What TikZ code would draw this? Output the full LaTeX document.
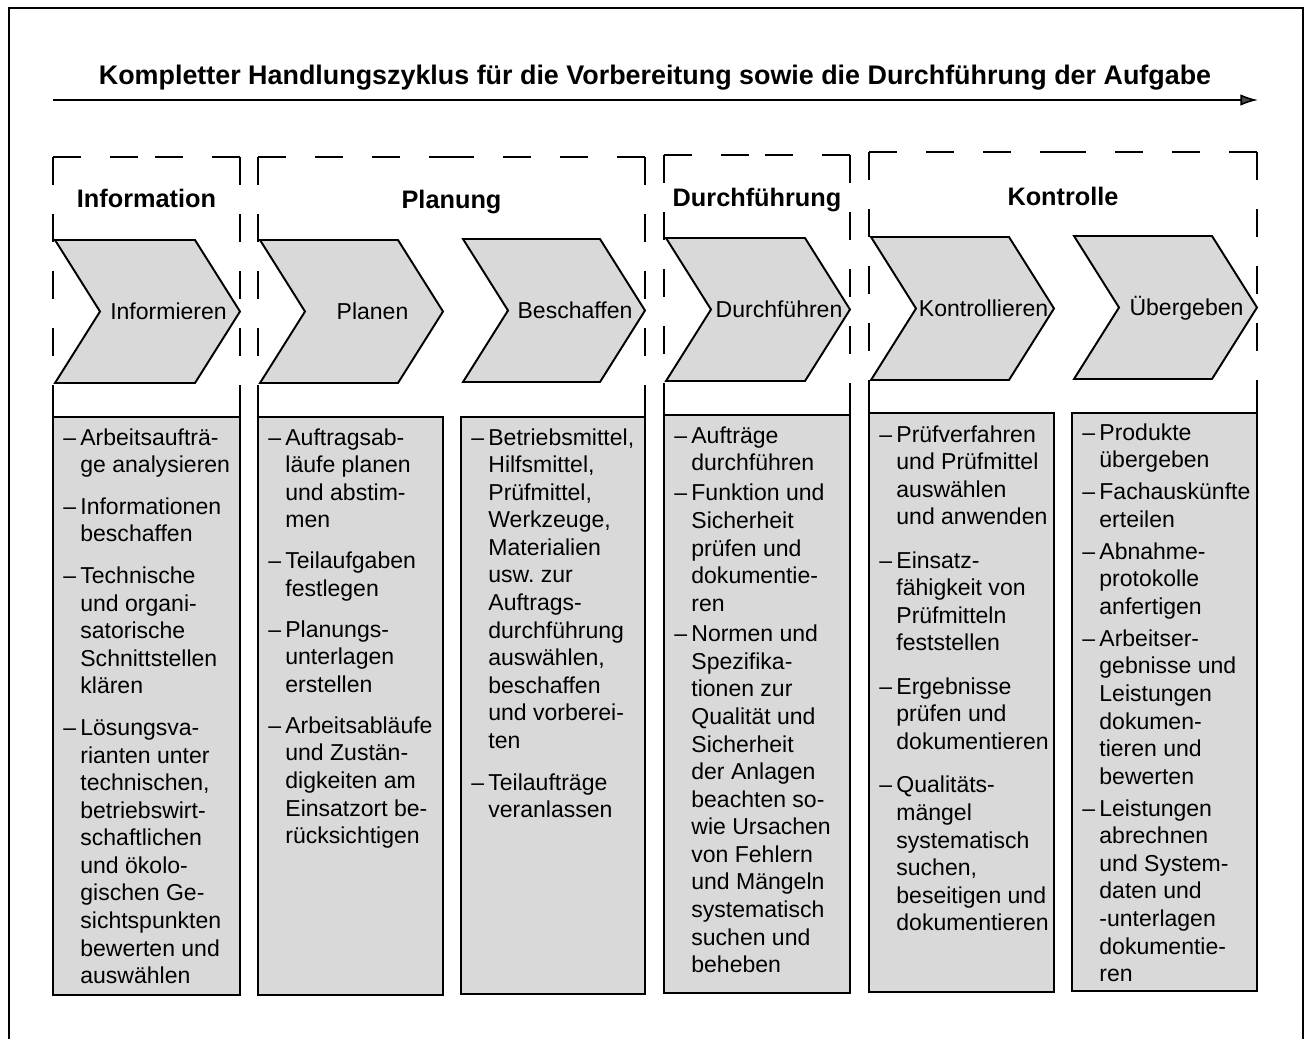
\documentclass[tikz,border=0pt]{standalone}
\usepackage{fontspec}
\setmainfont{Liberation Sans}
\usetikzlibrary{arrows.meta,calc}
\frenchspacing

\begin{document}
\begin{tikzpicture}
	[x=0.02cm,y=-0.02cm,
	grp/.style={line width=1.1pt,dash pattern=on 16pt off 16.5pt},
	side/.style={line width=1.1pt},
	box/.style={draw,line width=1.1pt,fill=black!15},
	chev/.style={draw,line width=1.1pt,fill=black!15,line join=miter},
	hd/.style={font=\fontsize{14.4}{17}\selectfont\bfseries,anchor=base,inner sep=0pt},
	lbl/.style={font=\fontsize{13.1}{15.7}\selectfont,anchor=base,inner sep=0pt},
	txt/.style={font=\fontsize{13.1}{15.7}\selectfont,anchor=base west,inner sep=0pt}]
	\useasboundingbox (0,0) rectangle (1307,1038);
	%FRAME AND TITLE
	\draw[line width=0.9pt] (9,1045) -- (9,8) -- (1303,8) -- (1303,1045);
	\node[font=\fontsize{15.3}{18}\selectfont\bfseries,anchor=base,inner sep=0pt] (title) at (655,84) {Kompletter Handlungszyklus für die Vorbereitung sowie die Durchführung der Aufgabe};
	\coordinate (arrs) at (53,100);
	\coordinate (arre) at (1258,100);
	\draw[line width=0.9pt,-{Latex[length=10pt,width=6.5pt,fill=black!70]}] (arrs) -- (arre);
	%GROUPS
	\foreach \l/\r/\t/\b/\name/\lab/\ly in {53/240/157/417/inf/Information/207,258/645/157/417/pla/Planung/208,664/850/155/415/dur/Durchführung/206,869/1257/152/413/kon/Kontrolle/205}
	{
		\coordinate (\name m) at ({(\l+\r)/2},\t);
		\draw[grp] (\l,\t) -- (\l,388);
		\draw[grp] (\r,\t) -- (\r,388);
		\draw[grp] (\l,\t) -- (\name m);
		\draw[grp] (\r,\t) -- (\name m);
		\draw[side] (\l,388) -- (\l,\b) (\r,388) -- (\r,\b);
		\node[hd] (\name) at ({(\l+\r)/2},\ly) {\lab};
	};
	%CHEVRONS
	\foreach \l/\r/\t/\name/\lab in {53/240/240/ch1/Informieren,258/443/240/ch2/Planen,461/645/239/ch3/Beschaffen,664/850/238/ch4/Durchführen,869/1054/237/ch5/Kontrollieren,1072/1257/236/ch6/Übergeben}
	{
		\filldraw[chev] (\l+2,\t) -- (\r-45,\t) -- (\r,\t+71.5) -- (\r-45,\t+143) -- (\l+2,\t+143) -- (\l+47,\t+71.5) -- cycle;
		\node[lbl] (\name) at ({(\l+\r)/2+22},\t+79.5) {\lab};
	};
	%BOXES
	\foreach \l/\r/\t/\b in {53/240/417/995,258/443/417/995,461/645/417/994,664/850/415/993,869/1054/413/992,1072/1257/413/991}
	\draw[box] (\l,\t) rectangle (\r,\b);
	%TEXTS
	\node[txt] (t1) at (63,445) {\begin{tabular}[t]{@{}p{9.7pt}@{}l@{}}
	– & Arbeitsaufträ-\\ & ge analysieren\\[8pt]
	– & Informationen\\ & beschaffen\\[8pt]
	– & Technische\\ & und organi-\\ & satorische\\ & Schnittstellen\\ & klären\\[8pt]
	– & Lösungsva-\\ & rianten unter\\ & technischen,\\ & betriebswirt-\\ & schaftlichen\\ & und ökolo-\\ & gischen Ge-\\ & sichtspunkten\\ & bewerten und\\ & auswählen
	\end{tabular}};
	\node[txt] (t2) at (268,445) {\begin{tabular}[t]{@{}p{9.7pt}@{}l@{}}
	– & Auftragsab-\\ & läufe planen\\ & und abstim-\\ & men\\[7.6pt]
	– & Teilaufgaben\\ & festlegen\\[7.6pt]
	– & Planungs-\\ & unterlagen\\ & erstellen\\[7.6pt]
	– & Arbeitsabläufe\\ & und Zustän-\\ & digkeiten am\\ & Einsatzort be-\\ & rücksichtigen
	\end{tabular}};
	\node[txt] (t3) at (471,445) {\begin{tabular}[t]{@{}p{9.7pt}@{}l@{}}
	– & Betriebsmittel,\\ & Hilfsmittel,\\ & Prüfmittel,\\ & Werkzeuge,\\ & Materialien\\ & usw. zur\\ & Auftrags-\\ & durchführung\\ & auswählen,\\ & beschaffen\\ & und vorberei-\\ & ten\\[8pt]
	– & Teilaufträge\\ & veranlassen
	\end{tabular}};
	\node[txt] (t4) at (674,443) {\begin{tabular}[t]{@{}p{9.7pt}@{}l@{}}
	– & Aufträge\\ & durchführen\\[1.6pt]
	– & Funktion und\\ & Sicherheit\\ & prüfen und\\ & dokumentie-\\ & ren\\[1.6pt]
	– & Normen und\\ & Spezifika-\\ & tionen zur\\ & Qualität und\\ & Sicherheit\\ & der Anlagen\\ & beachten so-\\ & wie Ursachen\\ & von Fehlern\\ & und Mängeln\\ & systematisch\\ & suchen und\\ & beheben
	\end{tabular}};
	\node[txt] (t5) at (879,442) {\begin{tabular}[t]{@{}p{9.7pt}@{}l@{}}
	– & Prüfverfahren\\ & und Prüfmittel\\ & auswählen\\ & und anwenden\\[9pt]
	– & Einsatz-\\ & fähigkeit von\\ & Prüfmitteln\\ & feststellen\\[9pt]
	– & Ergebnisse\\ & prüfen und\\ & dokumentieren\\[9pt]
	– & Qualitäts-\\ & mängel\\ & systematisch\\ & suchen,\\ & beseitigen und\\ & dokumentieren
	\end{tabular}};
	\node[txt] (t6) at (1082,440) {\begin{tabular}[t]{@{}p{9.7pt}@{}l@{}}
	– & Produkte\\ & übergeben\\[2.5pt]
	– & Fachauskünfte\\ & erteilen\\[2.5pt]
	– & Abnahme-\\ & protokolle\\ & anfertigen\\[2.5pt]
	– & Arbeitser-\\ & gebnisse und\\ & Leistungen\\ & dokumen-\\ & tieren und\\ & bewerten\\[2.5pt]
	– & Leistungen\\ & abrechnen\\ & und System-\\ & daten und\\ & -unterlagen\\ & dokumentie-\\ & ren
	\end{tabular}};
\end{tikzpicture}
\end{document}
